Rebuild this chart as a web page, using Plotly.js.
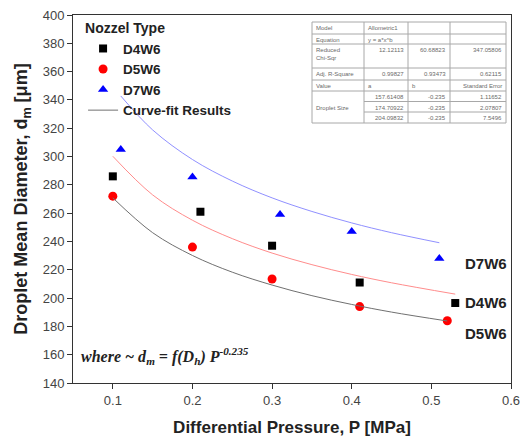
<!DOCTYPE html>
<html>
<head>
<meta charset="utf-8">
<script src="https://cdn.plot.ly/plotly-3.0.1.min.js"></script>
<style>html,body{margin:0;padding:0;background:#fff;}#chart{width:529px;height:444px;}</style>
</head>
<body>
<div id="chart"></div>
<script>
// Measured data
const d4w6_x = [0.10, 0.21, 0.30, 0.41, 0.53];
const d4w6_y = [286, 261, 237, 211, 196.5];
const d5w6_x = [0.10, 0.20, 0.30, 0.41, 0.52];
const d5w6_y = [272, 236, 213.5, 194, 184];
const d7w6_x = [0.11, 0.20, 0.31, 0.40, 0.51];
const d7w6_y = [305, 285.5, 259, 247, 228];

// Curve-fit lines
const fitD5_x = [0.10, 0.15, 0.20, 0.25, 0.30, 0.35, 0.40, 0.45, 0.52];
const fitD5_y = [270.8, 246.2, 230.1, 218.3, 209.2, 201.7, 195.5, 190.1, 183.8];
const fitD4_x = [0.10, 0.15, 0.20, 0.25, 0.30, 0.35, 0.40, 0.45, 0.53];
const fitD4_y = [300.2, 272.9, 255.0, 242.0, 231.8, 223.6, 216.7, 210.8, 202.8];
const fitD7_x = [0.11, 0.15, 0.20, 0.25, 0.30, 0.35, 0.40, 0.45, 0.51];
const fitD7_y = [342.8, 318.8, 297.9, 282.7, 270.8, 261.2, 253.1, 246.2, 239.1];

// Fit-results table (one array per column, one entry per row)
const tblCol0 = ["Model", "Equation", "Reduced<br>Chi-Sqr", "Adj. R-Square", "Value", "", "Droplet Size", ""];
const tblCol1 = ["Allometric1", "y = a*x^b", "12.12113", "0.99827", "a", "157.61408", "174.70922", "204.09832"];
const tblCol2 = ["", "", "60.68823", "0.93473", "b", "-0.235", "-0.235", "-0.235"];
const tblCol3 = ["", "", "347.05806", "0.62115", "Standard Error", "1.11652", "2.07807", "7.5496"];

const fitLabels = ["D7W6", "D4W6", "D5W6"];
const fitLabelX = [0.569, 0.569, 0.569];
const fitLabelY = [224.5, 197, 175];

// ---- layout geometry (styling, not data) ----
const W = 529, H = 444, M = {l: 73, r: 18, t: 15, b: 61};
const pw = W - M.l - M.r, ph = H - M.t - M.b;
const px2x = p => (p - M.l) / pw;
const px2y = p => 1 - (p - M.t) / ph;
const tblColEdges = [312, 364, 408, 450, 506];
const tblRowHeights = [12, 10, 24, 12, 11, 10.5, 10.5, 11];
const tblTop = 22;
const tblAlign = [
  ['left','left','left','left','left','left','left','left'],
  ['left','left','right','right','left','right','right','right'],
  ['right','right','right','right','left','right','right','right'],
  ['right','right','right','right','right','right','right','right']
];
const mergedCol0Rows = [5, 6, 7]; // "Droplet Size" spans these rows

const mk = (x, y, name, sym, col, size) => ({
  x, y, name, type: 'scatter', mode: 'markers',
  marker: {symbol: sym, color: col, size: size}, cliponaxis: false
});
const ln = (x, y, col, show) => ({
  x, y, name: 'Curve-fit Results', type: 'scatter', mode: 'lines',
  line: {color: col, width: 1, shape: 'spline'}, showlegend: show
});

const traces = [
  mk(d4w6_x, d4w6_y, 'D4W6', 'square', '#000000', 8),
  mk(d5w6_x, d5w6_y, 'D5W6', 'circle', '#ff0000', 9),
  mk(d7w6_x, d7w6_y, 'D7W6', 'triangle-up', '#0000ff', 9),
  ln(fitD5_x, fitD5_y, '#707070', true),
  ln(fitD4_x, fitD4_y, '#ff8c8c', false),
  ln(fitD7_x, fitD7_y, '#9090ff', false)
];

const ann = fitLabels.map((t, i) => ({
  x: fitLabelX[i], y: fitLabelY[i], xref: 'x', yref: 'y', text: '<b>' + t + '</b>', showarrow: false,
  font: {family: 'Arial', size: 15, color: '#222222'}
}));
ann.push({
  x: 0.058, y: 159, xref: 'x', yref: 'y', xanchor: 'left', showarrow: false,
  text: '<b><i>where ~ d<sub>m</sub> = f(D<sub>h</sub>) P<sup>-0.235</sup></i></b>',
  font: {family: 'Liberation Serif, Times New Roman, serif', size: 16, color: '#222222'}
});

// table built from shapes + annotations
const shapes = [];
const rowEdges = [tblTop];
tblRowHeights.forEach(h => rowEdges.push(rowEdges[rowEdges.length - 1] + h));
const tblCols = [tblCol0, tblCol1, tblCol2, tblCol3];
const lineStyle = {color: '#a8a8a8', width: 1};
shapes.push({type: 'rect', xref: 'paper', yref: 'paper',
  x0: px2x(tblColEdges[0]), x1: px2x(tblColEdges[4]),
  y0: px2y(rowEdges[0]), y1: px2y(rowEdges[rowEdges.length - 1]), line: lineStyle});
for (let c = 1; c < tblColEdges.length - 1; c++) {
  shapes.push({type: 'line', xref: 'paper', yref: 'paper',
    x0: px2x(tblColEdges[c]), x1: px2x(tblColEdges[c]),
    y0: px2y(rowEdges[0]), y1: px2y(rowEdges[rowEdges.length - 1]), line: lineStyle});
}
for (let r = 1; r < rowEdges.length - 1; r++) {
  for (let c = 0; c < 4; c++) {
    if (c === 0 && mergedCol0Rows.includes(r) && mergedCol0Rows.includes(r - 1)) continue;
    shapes.push({type: 'line', xref: 'paper', yref: 'paper',
      x0: px2x(tblColEdges[c]), x1: px2x(tblColEdges[c + 1]),
      y0: px2y(rowEdges[r]), y1: px2y(rowEdges[r]), line: lineStyle});
  }
}
tblCols.forEach((col, c) => {
  col.forEach((txt, r) => {
    if (!txt) return;
    const al = tblAlign[c][r];
    ann.push({
      xref: 'paper', yref: 'paper',
      x: px2x(al === 'left' ? tblColEdges[c] + 2 : tblColEdges[c + 1] - 2),
      y: px2y(rowEdges[r] + 1),
      xanchor: al, yanchor: 'top', showarrow: false, align: al,
      text: txt,
      font: {family: 'Arial', size: 6, color: '#6a6a6a'}
    });
  });
});

const layout = {
  width: W, height: H,
  margin: M,
  paper_bgcolor: '#ffffff', plot_bgcolor: '#ffffff',
  font: {family: 'Arial', color: '#222222'},
  showlegend: true,
  legend: {
    x: 0.023, y: 1.0, xanchor: 'left', yanchor: 'top',
    bgcolor: 'rgba(0,0,0,0)', tracegroupgap: 0,
    title: {text: '<b>Nozzel Type</b>', font: {family: 'Arial', size: 14, color: '#222222'}},
    font: {family: 'Arial', size: 13.5, color: '#222222', weight: 'bold'}
  },
  xaxis: {
    range: [0.05, 0.6], dtick: 0.1, tick0: 0.1, showgrid: false, zeroline: false,
    showline: true, linecolor: '#333333', linewidth: 1, mirror: true,
    ticks: 'outside', ticklen: 5, tickcolor: '#333333',
    tickfont: {family: 'Arial', size: 13, color: '#444444'},
    title: {text: '<b>Differential Pressure, P [MPa]</b>', font: {family: 'Arial', size: 17, color: '#222222'}, standoff: 14}
  },
  yaxis: {
    range: [140, 400], dtick: 20, showgrid: false, zeroline: false,
    showline: true, linecolor: '#333333', linewidth: 1, mirror: true,
    ticks: 'outside', ticklen: 5, tickcolor: '#333333',
    tickfont: {family: 'Arial', size: 13, color: '#444444'},
    title: {text: '<b>Droplet Mean Diameter, d<sub>m</sub> [μm]</b>', font: {family: 'Arial', size: 18, color: '#222222'}, standoff: 10}
  },
  shapes: shapes,
  annotations: ann
};

Plotly.newPlot('chart', traces, layout, {displayModeBar: false, staticPlot: true});
</script>
</body>
</html>
